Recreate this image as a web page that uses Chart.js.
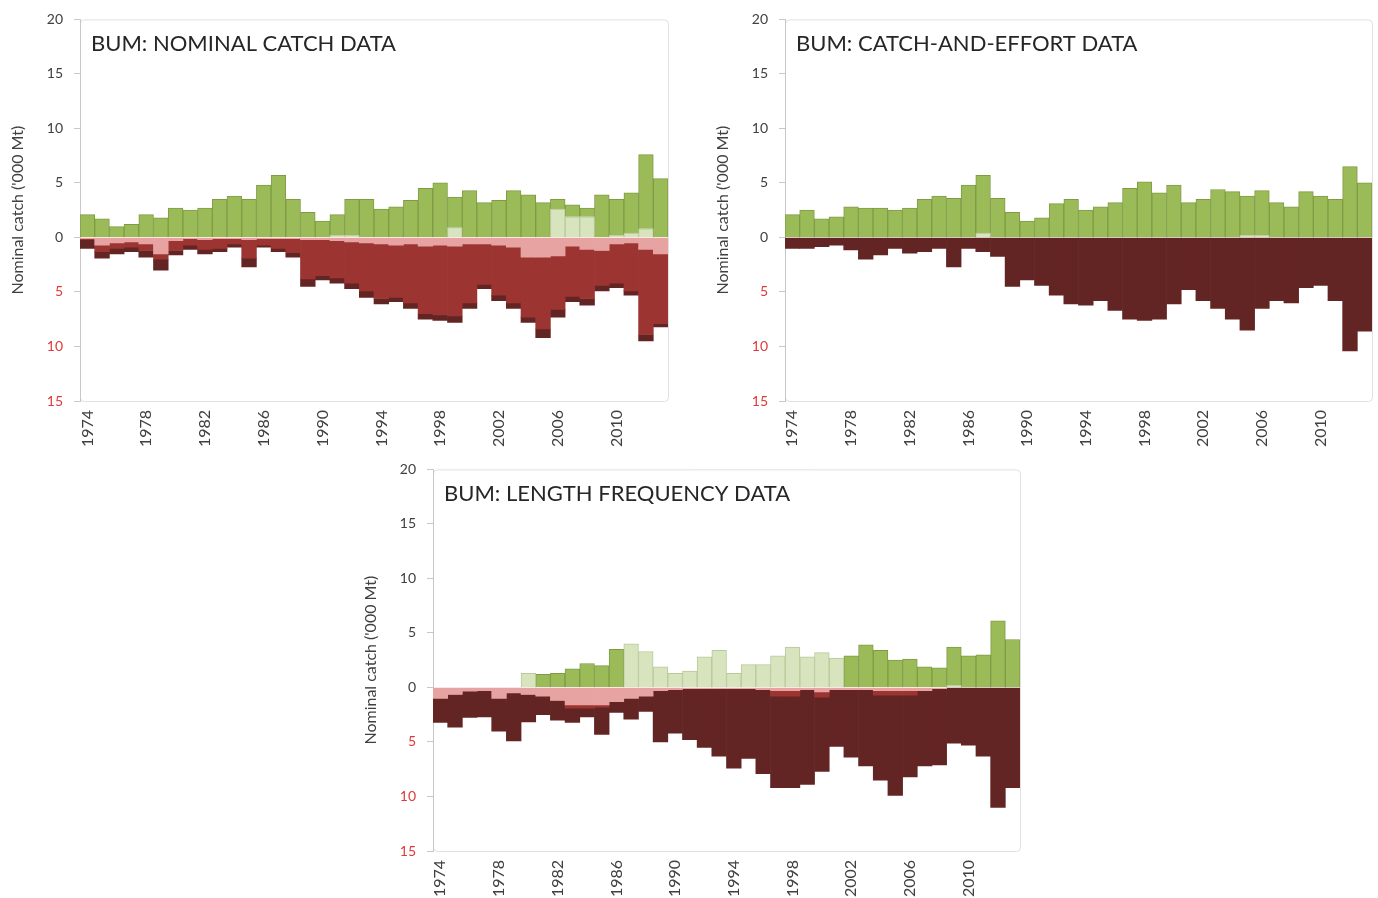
<!DOCTYPE html>
<html>
<head>
<meta charset="utf-8">
<script src="https://cdn.jsdelivr.net/npm/chart.js@4.4.1/dist/chart.umd.min.js"></script>
<style>
  body { margin: 0; background: #fff; width: 1378px; height: 898px; overflow: hidden; position: relative; }
  canvas { position: absolute; }
</style>
</head>
<body>
<canvas id="nominal" width="680" height="460" style="left:0px;top:0px"></canvas>
<canvas id="effort" width="673" height="460" style="left:705px;top:0px"></canvas>
<canvas id="length" width="680" height="448" style="left:353px;top:450px"></canvas>
<script>
// years 1974-2013
const years = ['1974','1975','1976','1977','1978','1979','1980','1981','1982','1983',
  '1984','1985','1986','1987','1988','1989','1990','1991','1992','1993',
  '1994','1995','1996','1997','1998','1999','2000','2001','2002','2003',
  '2004','2005','2006','2007','2008','2009','2010','2011','2012','2013'];
const yTicks = [20, 15, 10, 5, 0, -5, -10, -15];

// nominal catch ('000 t)
const nomLight = [0,0,0,0,0,0,0,0,0,0, 0,0,0,0,0,0,0,0.2,0.2,0, 0,0,0,0,0,0.9,0,0,0,0, 0,0,2.6,1.9,1.9,0,0.2,0.4,0.8,0];
const nomGreen = [2.1,1.7,1.0,1.2,2.1,1.8,2.7,2.5,2.7,3.5, 3.8,3.5,4.8,5.7,3.5,2.3,1.5,1.9,3.3,3.5, 2.6,2.8,3.4,4.5,5.0,2.8,4.3,3.2,3.4,4.3, 3.9,3.2,0.9,1.1,0.8,3.9,3.3,3.7,6.8,5.4];
const nomPink = [-0.1,-0.7,-0.5,-0.4,-0.6,-1.5,-0.3,-0.1,-0.2,-0.1, -0.1,-0.2,-0.1,-0.1,-0.1,-0.2,-0.2,-0.3,-0.4,-0.5, -0.6,-0.7,-0.6,-0.8,-0.7,-0.8,-0.6,-0.6,-0.7,-0.9, -1.8,-1.8,-1.7,-0.8,-1.1,-1.2,-0.6,-0.5,-1.1,-1.5];
const nomRed = [-0.1,-0.6,-0.5,-0.5,-0.6,-0.5,-0.9,-0.6,-0.9,-0.9, -0.5,-1.7,-0.6,-0.9,-1.3,-3.6,-3.3,-3.4,-3.8,-4.4, -5.0,-4.8,-5.4,-6.2,-6.4,-6.4,-5.4,-3.7,-4.6,-5.1, -5.5,-6.6,-4.9,-4.6,-4.5,-3.2,-3.6,-4.4,-7.8,-6.4];
const nomDark = [-0.8,-0.6,-0.5,-0.4,-0.6,-1.0,-0.4,-0.4,-0.4,-0.3, -0.3,-0.8,-0.2,-0.3,-0.4,-0.7,-0.4,-0.5,-0.5,-0.6, -0.5,-0.4,-0.5,-0.5,-0.5,-0.6,-0.5,-0.4,-0.5,-0.5, -0.5,-0.8,-0.7,-0.5,-0.6,-0.5,-0.4,-0.4,-0.6,-0.3];

// catch-and-effort
const ceLight = [0,0,0,0,0,0,0,0,0,0, 0,0,0,0.4,0,0,0,0,0,0, 0,0,0,0,0,0,0,0,0,0, 0,0.2,0.2,0,0,0,0,0,0,0];
const ceGreen = [2.1,2.5,1.7,1.9,2.8,2.7,2.7,2.5,2.7,3.5, 3.8,3.6,4.8,5.3,3.6,2.3,1.5,1.8,3.1,3.5, 2.5,2.8,3.2,4.5,5.1,4.1,4.8,3.2,3.5,4.4, 4.2,3.6,4.1,3.2,2.8,4.2,3.8,3.5,6.5,5.0];
const ceDark = [-1.0,-1.0,-0.85,-0.7,-1.15,-2.0,-1.6,-1.0,-1.45,-1.3, -1.0,-2.7,-1.0,-1.3,-1.75,-4.5,-3.9,-4.4,-5.3,-6.1, -6.2,-5.8,-6.7,-7.5,-7.6,-7.5,-6.1,-4.8,-5.8,-6.5, -7.5,-8.5,-6.5,-5.8,-6.0,-4.6,-4.4,-5.8,-10.4,-8.6];

// length frequency
const lfLight = [0,0,0,0,0,0,1.3,0,0,0, 0,0,0,4.0,3.3,1.9,1.3,1.5,2.8,3.4, 1.3,2.1,2.1,2.9,3.7,2.8,3.2,2.7,0,0, 0,0,0,0,0,0.2,0,0,0,0];
const lfGreen = [0,0,0,0,0,0,0,1.2,1.3,1.7, 2.2,2.0,3.5,0,0,0,0,0,0,0, 0,0,0,0,0,0,0,0,2.9,3.9, 3.4,2.5,2.6,1.9,1.8,3.5,2.9,3.0,6.1,4.4];
const lfPink = [-1.0,-0.65,-0.35,-0.3,-1.0,-0.5,-0.65,-0.8,-1.2,-1.6, -1.6,-1.6,-1.3,-1.0,-0.8,-0.3,-0.2,-0.1,-0.1,-0.1, -0.1,-0.1,-0.2,-0.3,-0.3,-0.2,-0.4,-0.2,-0.2,-0.2, -0.3,-0.3,-0.3,-0.3,-0.1,0,0,0,0,0];
const lfRed = [0,0,0,0,0,0,0,0,0,-0.3, -0.3,-0.2,0,0,0,0,0,0,0,0, 0,0,0,-0.5,-0.5,0,-0.5,0,0,0, -0.4,-0.4,-0.4,0,0,0,0,0,0,0];
const lfDark = [-2.2,-3.0,-2.4,-2.4,-3.0,-4.4,-2.5,-1.7,-1.8,-1.3, -0.8,-2.5,-1.0,-1.9,-1.4,-4.7,-4.0,-4.7,-5.4,-6.2, -7.3,-6.4,-7.7,-8.4,-8.4,-8.7,-6.8,-5.2,-6.2,-7.0, -7.8,-9.2,-7.5,-6.9,-7.0,-5.1,-5.3,-6.3,-11.0,-9.2];

const FONT = 'Lato, "Open Sans", sans-serif';
const colLight = '#d7e4bd', colGreen = '#9bbb59', colPink = '#e6a3a2', colRed = '#9c3431', colDark = '#632523';

// frame round the plot + title written inside it
const panelDeco = {
  id: 'panelDeco',
  beforeDraw(chart) {
    const a = chart.chartArea, c = chart.ctx;
    c.save();
    c.strokeStyle = '#e0e0e0';
    c.lineWidth = 1;
    c.beginPath();
    c.roundRect(a.left + 0.5, a.top + 0.5, a.right - a.left, a.bottom - a.top, 4);
    c.stroke();
    c.restore();
  },
  afterDraw(chart) {
    const a = chart.chartArea, c = chart.ctx;
    c.save();
    c.fillStyle = '#262626';
    c.font = '22px ' + FONT;
    c.textBaseline = 'middle';
    c.fillText(chart.options.plugins.panelDeco.text, a.left + 11, a.top + 25);
    c.restore();
  }
};

// zero entries are left out so no empty sliver gets drawn
function bar(label, data, color, border) {
  return {
    label: label, data: data.map(v => (v === 0 ? null : v)), backgroundColor: color,
    borderColor: border || color, borderWidth: border ? 1 : 0,
    barPercentage: 1, categoryPercentage: 1
  };
}

function makeChart(id, title, datasets, padRight, xHeight) {
  return new Chart(document.getElementById(id), {
    type: 'bar',
    data: { labels: years, datasets: datasets },
    plugins: [panelDeco],
    options: {
      responsive: false,
      animation: false,
      devicePixelRatio: 1,
      layout: { padding: { top: 19, right: padRight, left: 0, bottom: 0 } },
      plugins: {
        legend: { display: false },
        tooltip: { enabled: false },
        panelDeco: { text: title }
      },
      scales: {
        x: {
          stacked: true,
          grid: { display: false, drawTicks: false },
          border: { display: false },
          ticks: {
            autoSkip: false, maxRotation: 90, minRotation: 90, padding: 9,
            color: '#404040', font: { family: FONT, size: 16 },
            callback: (v, i) => (i % 4 === 0 ? years[i] : '')
          },
          afterFit: s => { s.height = xHeight; s.paddingLeft = 0; s.paddingRight = 0; }
        },
        y: {
          stacked: true,
          min: -15, max: 20,
          grid: { drawOnChartArea: false, drawTicks: true, tickLength: 6, color: '#c8c8c8' },
          border: { color: '#c8c8c8' },
          afterBuildTicks: s => { s.ticks = yTicks.map(v => ({ value: v })); },
          ticks: {
            padding: 11,
            font: { family: FONT, size: 14 },
            color: ctx => (ctx.tick && ctx.tick.value < 0 ? '#e0393b' : '#404040'),
            callback: v => Math.abs(v)
          },
          title: {
            display: true, text: "Nominal catch ('000 Mt)",
            color: '#404040', font: { family: FONT, size: 16 },
            padding: { top: 8, bottom: 0 }
          },
          afterFit: s => { s.width = 80; }
        }
      }
    }
  });
}

Chart.defaults.font.family = FONT;

makeChart('nominal', 'BUM: NOMINAL CATCH DATA', [
  bar('Partial', nomLight, colLight, '#b9c99b'),
  bar('Full', nomGreen, colGreen, '#7f9c45'),
  bar('Low', nomPink, colPink),
  bar('Medium', nomRed, colRed),
  bar('High', nomDark, colDark)
], 12, 59);

makeChart('effort', 'BUM: CATCH-AND-EFFORT DATA', [
  bar('Partial', ceLight, colLight, '#b9c99b'),
  bar('Full', ceGreen, colGreen, '#7f9c45'),
  bar('High', ceDark, colDark)
], 6, 59);

makeChart('length', 'BUM: LENGTH FREQUENCY DATA', [
  bar('Partial', lfLight, colLight, '#b9c99b'),
  bar('Full', lfGreen, colGreen, '#7f9c45'),
  bar('Low', lfPink, colPink),
  bar('Medium', lfRed, colRed),
  bar('High', lfDark, colDark)
], 13, 47);
</script>
</body>
</html>
